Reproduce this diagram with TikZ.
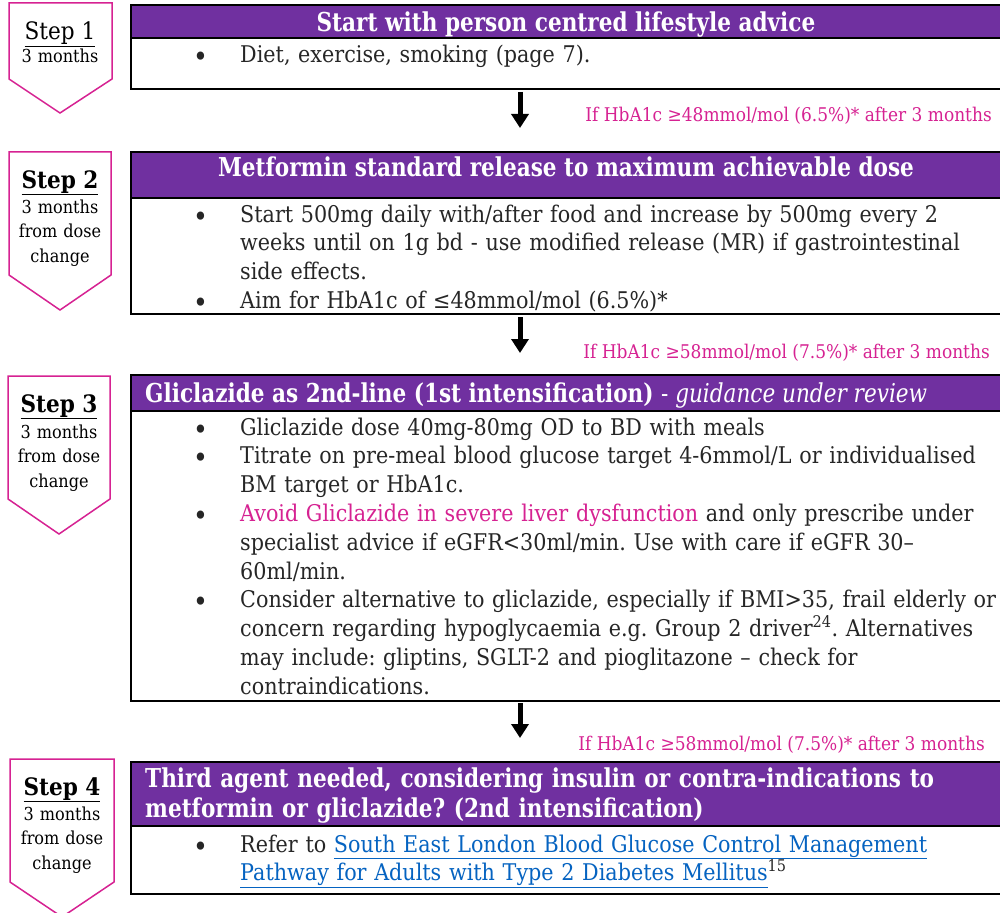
\documentclass[tikz,border=0pt]{standalone}
\usepackage{fontspec}
\setmainfont{DejaVu Serif}[FakeStretch=0.90]
\newfontfamily\hdrfont{DejaVu Serif}[FakeStretch=0.83]
\usetikzlibrary{arrows.meta}
\definecolor{hdrpurple}{RGB}{112,48,160}
\definecolor{stepink}{RGB}{214,34,146}
\definecolor{linkblue}{RGB}{5,99,193}
\definecolor{bodygray}{RGB}{38,38,38}
\frenchspacing
\newcommand{\bitem}[1]{\noindent\hangindent=47pt\hangafter=1%
  \makebox[47pt][l]{\raisebox{-4pt}{\fontsize{28}{28}\selectfont\textbullet}}#1\par}
\newcommand{\weblink}[1]{\textcolor{linkblue}{\underline{#1}}}

\begin{document}
\begin{tikzpicture}[x=1pt, y=-1pt,
  chevron/.style={draw=stepink, line width=1.5pt, fill=white},
  steplabel/.style={anchor=base, inner sep=0, font=\fontsize{24}{28}\selectfont},
  stepnote/.style={anchor=base, inner sep=0, text width=100pt, align=center,
    font=\fontsize{17.9}{24.5}\selectfont},
  hdrbox/.style={draw=black, line width=2pt, fill=hdrpurple, anchor=north west,
    minimum width=874pt, inner sep=0},
  bodybox/.style={draw=black, line width=2pt, fill=white, anchor=north west,
    minimum width=874pt, inner sep=0},
  hdrtext/.style={inner sep=0, text=white, font=\hdrfont\bfseries\fontsize{26}{30}\selectfont},
  bodytext/.style={anchor=base west, inner sep=0, text width=900pt,
    text=bodygray, font=\fontsize{23}{28.8}\selectfont},
  cond/.style={anchor=base east, inner sep=0, text=stepink,
    font=\fontsize{18.9}{24}\selectfont},
  flowarrow/.style={line width=5pt, -{Triangle[width=17pt,length=14pt]}}]

\useasboundingbox (0,0) rectangle (1000,912);

% step markers
\draw[chevron] (9,3) -- (112,3) -- (112,79) -- (60,113) -- (9,79) -- cycle;
\node[steplabel] (s1) at (60,40) {\underline{Step 1}};
\node[stepnote] (s1n) at (60,63) {3 months};

\draw[chevron] (9,152) -- (111,152) -- (111,275) -- (60,310) -- (9,275) -- cycle;
\node[steplabel] (s2) at (60,188) {\bfseries\underline{Step 2}};
\node[stepnote] (s2n) at (60,213) {3 months\\from dose\\change};

\draw[chevron] (8,376) -- (110,376) -- (110,499) -- (59,534) -- (8,499) -- cycle;
\node[steplabel] (s3) at (59,412) {\bfseries\underline{Step 3}};
\node[stepnote] (s3n) at (59,438) {3 months\\from dose\\change};

\draw[chevron] (10,759) -- (114,759) -- (114,882) -- (62,917) -- (10,882) -- cycle;
\node[steplabel] (s4) at (62,795) {\bfseries\underline{Step 4}};
\node[stepnote] (s4n) at (62,820) {3 months\\from dose\\change};

% step 1
\node[bodybox, minimum height=51pt] (b1) at (130,37) {};
\node[hdrbox, minimum height=33pt] (h1) at (130,4) {};
\node[hdrtext, anchor=base] (h1t) at (566,32) {Start with person centred lifestyle advice};
\node[bodytext] (t1) at (193,63) {\bitem{Diet, exercise, smoking (page 7).}};

\coordinate (a1s) at (520,92);
\coordinate (a1e) at (520,128);
\draw[flowarrow] (a1s) -- (a1e);
\node[cond] (c1) at (992,122) {If HbA1c ≥48mmol/mol (6.5\%)* after 3 months};

% step 2
\node[bodybox, minimum height=116pt] (b2) at (130,197) {};
\node[hdrbox, minimum height=46pt] (h2) at (130,151) {};
\node[hdrtext, anchor=base] (h2t) at (566,177) {Metformin standard release to maximum achievable dose};
\node[bodytext] (t2) at (193,222) {%
  \bitem{Start 500mg daily with/after food and increase by 500mg every 2\newline
    weeks until on 1g bd - use modified release (MR) if gastrointestinal\newline
    side effects.}%
  \bitem{Aim for HbA1c of ≤48mmol/mol (6.5\%)*}};

\coordinate (a2s) at (520,317);
\coordinate (a2e) at (520,353);
\draw[flowarrow] (a2s) -- (a2e);
\node[cond] (c2) at (990,358) {If HbA1c ≥58mmol/mol (7.5\%)* after 3 months};

% step 3
\node[bodybox, minimum height=290pt] (b3) at (130,410) {};
\node[hdrbox, minimum height=36pt] (h3) at (130,374) {};
\node[hdrtext, anchor=base west] (h3t) at (145,402)
  {Gliclazide as 2nd-line (1st intensification) {\mdseries - \itshape guidance under review}};
\node[bodytext] (t3) at (193,435) {%
  \bitem{Gliclazide dose 40mg-80mg OD to BD with meals}%
  \bitem{Titrate on pre-meal blood glucose target 4-6mmol/L or individualised\newline
    BM target or HbA1c.}%
  \bitem{\textcolor{stepink}{Avoid Gliclazide in severe liver dysfunction} and only prescribe under\newline
    specialist advice if eGFR<30ml/min. Use with care if eGFR 30–\newline
    60ml/min.}%
  \bitem{Consider alternative to gliclazide, especially if BMI>35, frail elderly or\newline
    concern regarding hypoglycaemia e.g. Group 2 driver\textsuperscript{24}. Alternatives\newline
    may include: gliptins, SGLT-2 and pioglitazone – check for\newline
    contraindications.}};

\coordinate (a3s) at (520,703);
\coordinate (a3e) at (520,738);
\draw[flowarrow] (a3s) -- (a3e);
\node[cond] (c3) at (985,750) {If HbA1c ≥58mmol/mol (7.5\%)* after 3 months};

% step 4
\node[bodybox, minimum height=68pt] (b4) at (130,825) {};
\node[hdrbox, minimum height=64pt] (h4) at (130,761) {};
\node[hdrtext, anchor=base west, text width=850pt, align=left] (h4t) at (145,787)
  {Third agent needed, considering insulin or contra-indications to\\
   metformin or gliclazide? (2nd intensification)};
\node[bodytext] (t4) at (193,852) {%
  \bitem{Refer to \weblink{South East London Blood Glucose Control Management}\newline
    \weblink{Pathway for Adults with Type 2 Diabetes Mellitus}\textsuperscript{15}}};

\end{tikzpicture}
\end{document}
